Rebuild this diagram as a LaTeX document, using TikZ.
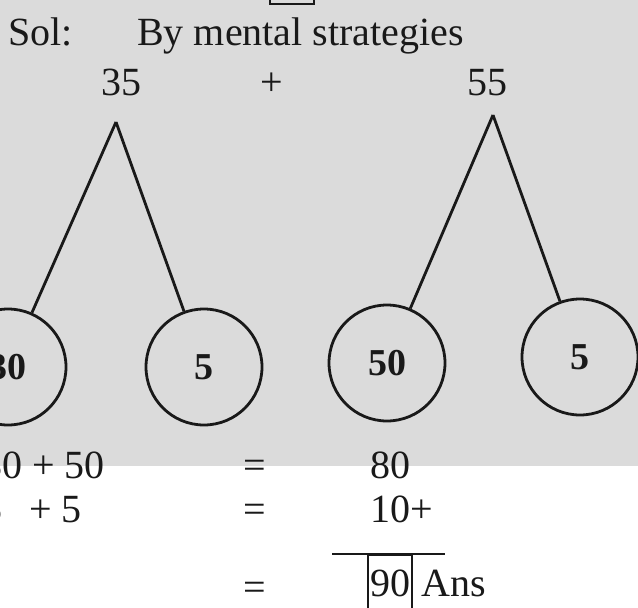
\documentclass[tikz,border=0pt]{standalone}
\usepackage{fontspec}
\setmainfont{Liberation Serif}
\usepackage{tikz}
\usetikzlibrary{positioning}
\definecolor{scangray}{RGB}{219,219,219}
\definecolor{ink}{RGB}{25,25,25}

\begin{document}
\begin{tikzpicture}[
      x=1pt,y=-1pt,
      txt/.style={inner sep=0pt,text=ink,font=\fontsize{40}{42}\selectfont},
      part/.style={draw=ink,circle,line width=2.8pt,minimum size=116pt,inner sep=0pt,text=ink,font=\bfseries\fontsize{38}{40}\selectfont},
      leg/.style={line width=2.8pt,ink}
    ]
    \useasboundingbox (0,0) rectangle (638,608);
    \clip (0,0) rectangle (638,608);
    \fill[scangray] (0,0) rectangle (638,466);
    \fill[white] (0,466) rectangle (638,608);
    \draw[line width=2pt,ink] (270,-20) rectangle (314,4);

    \node[txt,anchor=base west] (sol) at (8,45) {Sol:};
    \node[txt,anchor=base west] (title) at (137,45) {By mental strategies};
    \node[txt,anchor=base] (a) at (121,95) {35};
    \node[txt,anchor=base] (plus) at (272,95) {+};
    \node[txt,anchor=base] (b) at (487,95) {55};

    \coordinate (topa) at (116,122);
    \coordinate (topb) at (493,115);
    \node[part] (a1) at (8,367) {30};
    \node[part] (a2) at (204,367) {5};
    \node[part] (b1) at (387,363) {50};
    \node[part] (b2) at (580,357) {5};
    \foreach \n in {a1,a2}
      \draw[leg] (topa) -- (\n);
    \foreach \n in {b1,b2}
      \draw[leg] (topb) -- (\n);

    \node[txt,anchor=base east] (sum1) at (105,478) {30 + 50};
    \node[txt,anchor=base east] (sum2) at (82,522) {5 \ \,+ 5};
    \node[txt,anchor=base] (eq1) at (255,478) {=};
    \node[txt,anchor=base] (eq2) at (255,522) {=};
    \node[txt,anchor=base] (eq3) at (255,600) {=};
    \node[txt,anchor=base west] (r1) at (370,478) {80};
    \node[txt,anchor=base west] (r2) at (370,522) {10+};
    \node[txt,draw=ink,line width=2pt,minimum width=44pt,minimum height=56pt] (ans) at (390,583) {90};
    \node[txt,right=8pt of ans.east,anchor=base west,yshift=-13pt] (word) {Ans};
    \draw[line width=2pt,ink] (332,554) -- (445,554);
  \end{tikzpicture}
\end{document}
